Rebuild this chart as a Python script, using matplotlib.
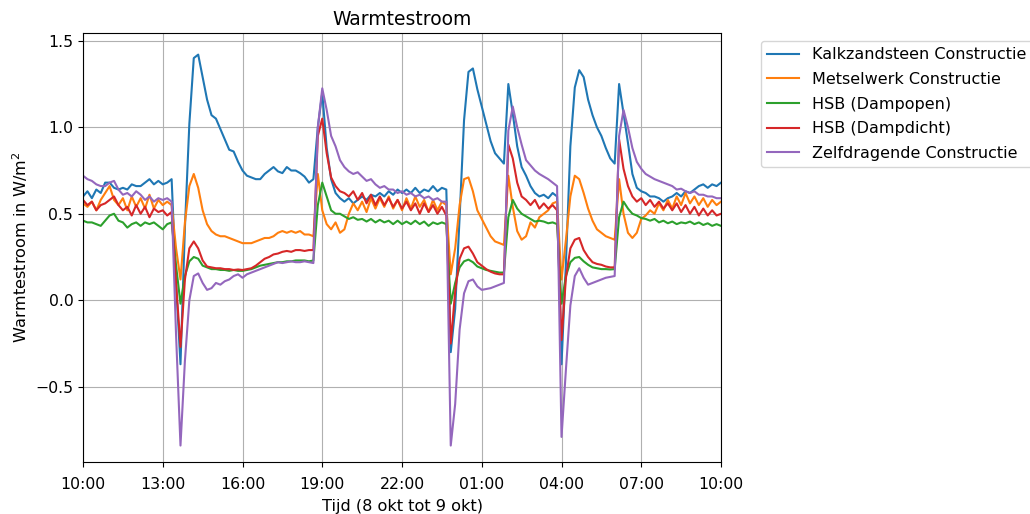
import numpy as np
import pandas as pd
import matplotlib
matplotlib.use("Agg")
import matplotlib.pyplot as plt
import matplotlib.dates as mdates

# Measurement times: every 10 minutes from 8 Oct 10:00 to 9 Oct 10:00
times = pd.date_range("2023-10-08 10:00", "2023-10-09 10:00", freq="10min")

series_names = [
    "Kalkzandsteen Constructie",
    "Metselwerk Constructie",
    "HSB (Dampopen)",
    "HSB (Dampdicht)",
    "Zelfdragende Constructie",
]

# Heat flux [W/m2], one row per hour (six 10-minute readings)
kalkzandsteen = [
    0.60, 0.63, 0.59, 0.64, 0.62, 0.68,    # 10:00
    0.68, 0.65, 0.64, 0.65, 0.64, 0.67,    # 11:00
    0.66, 0.66, 0.68, 0.70, 0.67, 0.69,    # 12:00
    0.67, 0.68, 0.70, 0.10, -0.37, 0.42,   # 13:00
    1.02, 1.40, 1.42, 1.29, 1.16, 1.07,    # 14:00
    1.05, 0.99, 0.93, 0.87, 0.86, 0.80,    # 15:00
    0.75, 0.72, 0.71, 0.70, 0.70, 0.73,    # 16:00
    0.75, 0.77, 0.745, 0.735, 0.77, 0.75,  # 17:00
    0.75, 0.735, 0.715, 0.68, 0.70, 1.00,  # 18:00
    1.20, 0.88, 0.70, 0.62, 0.59, 0.57,    # 19:00
    0.59, 0.56, 0.58, 0.60, 0.58, 0.61,    # 20:00
    0.60, 0.62, 0.60, 0.63, 0.61, 0.64,    # 21:00
    0.62, 0.64, 0.62, 0.65, 0.62, 0.64,    # 22:00
    0.63, 0.66, 0.63, 0.65, 0.64, -0.30,   # 23:00
    -0.05, 0.48, 1.04, 1.32, 1.34, 1.22,   # 00:00
    1.12, 1.02, 0.92, 0.85, 0.82, 0.79,    # 01:00
    1.25, 1.08, 0.89, 0.77, 0.72, 0.66,    # 02:00
    0.62, 0.60, 0.61, 0.59, 0.62, 0.60,    # 03:00
    -0.37, 0.215, 0.89, 1.23, 1.33, 1.29,  # 04:00
    1.16, 1.07, 1.00, 0.95, 0.88, 0.82,    # 05:00
    0.79, 1.25, 1.08, 0.91, 0.73, 0.65,    # 06:00
    0.63, 0.62, 0.60, 0.60, 0.59, 0.57,    # 07:00
    0.59, 0.60, 0.62, 0.60, 0.63, 0.62,    # 08:00
    0.64, 0.66, 0.67, 0.65, 0.67, 0.66,    # 09:00
    0.68,                                  # 10:00
]

metselwerk = [
    0.56, 0.54, 0.57, 0.52, 0.58, 0.62,
    0.66, 0.58, 0.55, 0.59, 0.52, 0.60,
    0.54, 0.59, 0.53, 0.61, 0.53, 0.58,
    0.55, 0.57, 0.55, 0.30, 0.12, 0.45,
    0.66, 0.73, 0.65, 0.52, 0.44, 0.40,
    0.38, 0.37, 0.37, 0.36, 0.35, 0.34,
    0.33, 0.33, 0.33, 0.34, 0.35, 0.36,
    0.36, 0.37, 0.39, 0.40, 0.39, 0.40,
    0.39, 0.40, 0.38, 0.38, 0.37, 0.73,
    0.52, 0.44, 0.41, 0.45, 0.39, 0.41,
    0.50, 0.56, 0.52, 0.57, 0.51, 0.59,
    0.53, 0.59, 0.54, 0.60, 0.53, 0.58,
    0.52, 0.59, 0.53, 0.60, 0.54, 0.58,
    0.51, 0.58, 0.52, 0.57, 0.55, 0.15,
    0.30, 0.55, 0.70, 0.71, 0.63, 0.52,
    0.47, 0.42, 0.37, 0.34, 0.33, 0.32,
    0.72, 0.54, 0.40, 0.35, 0.37, 0.45,
    0.42, 0.48, 0.50, 0.52, 0.56, 0.57,
    0.12, 0.35, 0.60, 0.72, 0.70, 0.62,
    0.53, 0.46, 0.41, 0.39, 0.37, 0.36,
    0.35, 0.70, 0.50, 0.39, 0.36, 0.39,
    0.47, 0.49, 0.52, 0.50, 0.56, 0.52,
    0.58, 0.53, 0.60, 0.55, 0.62, 0.56,
    0.60, 0.55, 0.59, 0.54, 0.58, 0.55,
    0.57,
]

hsb_dampopen = [
    0.46, 0.45, 0.45, 0.44, 0.43, 0.46,
    0.49, 0.50, 0.46, 0.45, 0.42, 0.44,
    0.45, 0.43, 0.45, 0.44, 0.45, 0.43,
    0.41, 0.44, 0.45, 0.20, -0.02, 0.14,
    0.225, 0.25, 0.24, 0.20, 0.19, 0.18,
    0.18, 0.175, 0.175, 0.17, 0.175, 0.17,
    0.17, 0.175, 0.18, 0.19, 0.20, 0.205,
    0.21, 0.215, 0.22, 0.22, 0.225, 0.225,
    0.23, 0.23, 0.23, 0.225, 0.23, 0.55,
    0.68, 0.60, 0.52, 0.50, 0.50, 0.485,
    0.47, 0.48, 0.465, 0.47, 0.455, 0.47,
    0.45, 0.465, 0.45, 0.46, 0.44, 0.46,
    0.44, 0.455, 0.44, 0.46, 0.44, 0.455,
    0.43, 0.45, 0.44, 0.45, 0.44, -0.02,
    0.10, 0.19, 0.225, 0.235, 0.22, 0.195,
    0.185, 0.175, 0.17, 0.165, 0.16, 0.16,
    0.48, 0.58, 0.53, 0.50, 0.485, 0.47,
    0.455, 0.46, 0.455, 0.445, 0.45, 0.44,
    -0.02, 0.14, 0.22, 0.245, 0.25, 0.225,
    0.205, 0.19, 0.185, 0.18, 0.18, 0.178,
    0.18, 0.48, 0.57, 0.53, 0.50, 0.49,
    0.475, 0.47, 0.46, 0.47, 0.45, 0.46,
    0.445, 0.455, 0.44, 0.45, 0.445, 0.455,
    0.44, 0.45, 0.435, 0.445, 0.43, 0.44,
    0.43,
]

hsb_dampdicht = [
    0.58, 0.55, 0.57, 0.52, 0.55, 0.56,
    0.58, 0.60, 0.55, 0.52, 0.54, 0.49,
    0.55, 0.50, 0.54, 0.48, 0.53, 0.51,
    0.52, 0.49, 0.51, 0.10, -0.27, 0.12,
    0.30, 0.34, 0.30, 0.23, 0.195, 0.19,
    0.185, 0.185, 0.18, 0.18, 0.175, 0.178,
    0.175, 0.18, 0.185, 0.20, 0.22, 0.24,
    0.25, 0.265, 0.27, 0.28, 0.285, 0.28,
    0.29, 0.29, 0.285, 0.29, 0.29, 0.95,
    1.05, 0.85, 0.71, 0.66, 0.63, 0.62,
    0.60, 0.63, 0.58, 0.62, 0.56, 0.61,
    0.55, 0.60, 0.55, 0.59, 0.54, 0.58,
    0.53, 0.57, 0.52, 0.56, 0.50, 0.56,
    0.51, 0.55, 0.50, 0.54, 0.49, -0.25,
    0.05, 0.24, 0.30, 0.31, 0.27, 0.22,
    0.20, 0.18, 0.165, 0.155, 0.15, 0.15,
    0.90, 0.82, 0.68, 0.60, 0.58, 0.55,
    0.58, 0.53, 0.56, 0.53, 0.55, 0.52,
    -0.23, 0.13, 0.30, 0.35, 0.36, 0.29,
    0.25, 0.22, 0.21, 0.205, 0.195, 0.19,
    0.19, 0.93, 0.76, 0.66, 0.60, 0.57,
    0.59, 0.55, 0.58, 0.54, 0.57, 0.53,
    0.56, 0.52, 0.56, 0.51, 0.55, 0.50,
    0.54, 0.49, 0.53, 0.49, 0.52, 0.49,
    0.50,
]

zelfdragend = [
    0.72, 0.70, 0.69, 0.67, 0.66, 0.66,
    0.68, 0.69, 0.64, 0.61, 0.62, 0.60,
    0.63, 0.61, 0.58, 0.60, 0.57, 0.59,
    0.58, 0.59, 0.57, -0.20, -0.84, -0.35,
    0.00, 0.14, 0.155, 0.10, 0.06, 0.07,
    0.10, 0.09, 0.11, 0.12, 0.14, 0.15,
    0.13, 0.15, 0.16, 0.17, 0.18, 0.19,
    0.20, 0.21, 0.22, 0.215, 0.22, 0.225,
    0.22, 0.22, 0.225, 0.22, 0.215, 1.00,
    1.225, 1.10, 0.95, 0.89, 0.81, 0.77,
    0.745, 0.73, 0.74, 0.715, 0.69, 0.70,
    0.67, 0.65, 0.66, 0.64, 0.64, 0.62,
    0.63, 0.61, 0.62, 0.60, 0.61, 0.59,
    0.60, 0.58, 0.59, 0.57, 0.57, -0.84,
    -0.60, -0.17, 0.04, 0.11, 0.12, 0.08,
    0.06, 0.065, 0.07, 0.08, 0.09, 0.10,
    0.98, 1.12, 1.00, 0.90, 0.81, 0.78,
    0.75, 0.73, 0.715, 0.70, 0.68, 0.66,
    -0.79, -0.40, -0.03, 0.14, 0.185, 0.13,
    0.09, 0.10, 0.11, 0.12, 0.13, 0.135,
    0.14, 0.95, 1.10, 1.00, 0.88, 0.80,
    0.76, 0.73, 0.715, 0.70, 0.69, 0.68,
    0.67, 0.66, 0.64, 0.645, 0.63, 0.62,
    0.63, 0.61, 0.61, 0.60, 0.60, 0.59,
    0.59,
]

all_series = [kalkzandsteen, metselwerk, hsb_dampopen, hsb_dampdicht, zelfdragend]
colors = ["#1f77b4", "#ff7f0e", "#2ca02c", "#d62728", "#9467bd"]

fig = plt.figure(figsize=(10.30, 5.14), dpi=100)
ax = fig.add_axes([0.0806, 0.1012, 0.6194, 0.8346])

for name, values, color in zip(series_names, all_series, colors):
    ax.plot(times, values, color=color, linewidth=1.5, label=name)

ax.set_xlim(pd.Timestamp("2023-10-08 10:00"), pd.Timestamp("2023-10-09 10:00"))
ax.set_ylim(-0.935, 1.545)
ax.set_yticks([-0.5, 0.0, 0.5, 1.0, 1.5])
ax.xaxis.set_major_locator(mdates.HourLocator(byhour=[1, 4, 7, 10, 13, 16, 19, 22]))
ax.xaxis.set_major_formatter(mdates.DateFormatter("%H:%M"))
ax.tick_params(labelsize=11.3)
ax.tick_params(axis="x", pad=7)
ax.grid(True, color="#b0b0b0", linewidth=0.8)

ax.set_title("Warmtestroom", fontsize=13.5)
ax.set_xlabel("Tijd (8 okt tot 9 okt)", fontsize=11.6, labelpad=5)
ax.set_ylabel("Warmtestroom in W/m$^2$", fontsize=11.6)

ax.legend(loc="upper left", bbox_to_anchor=(1.05, 1), fontsize=11.5,
          labelspacing=0.6)

fig.savefig("out.png", dpi=100)
